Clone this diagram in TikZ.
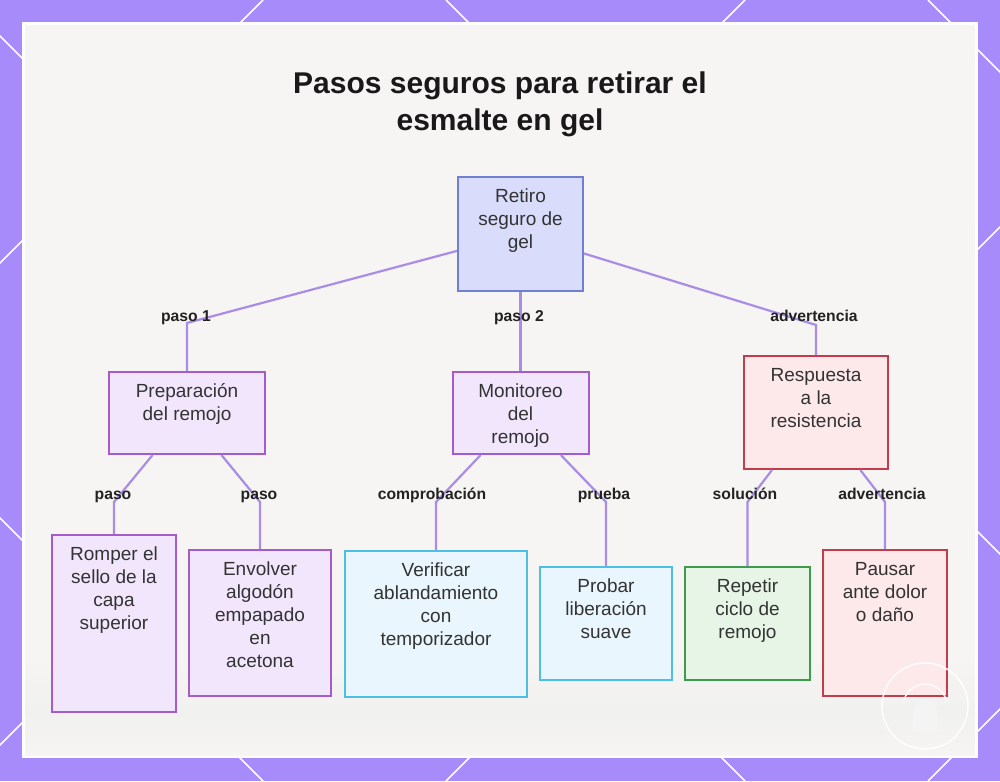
\documentclass[tikz,border=0pt]{standalone}
\usepackage{fontspec}
\setmainfont{Liberation Sans}
\definecolor{bgpurple}{HTML}{A78BFA}
\definecolor{panel}{HTML}{F6F5F3}
\definecolor{edgec}{HTML}{A88CE6}
\definecolor{txt}{HTML}{333333}
\definecolor{lbltxt}{HTML}{222222}
\definecolor{rootfill}{HTML}{D9DCFB}
\definecolor{rootdraw}{HTML}{6F7FD3}
\definecolor{purfill}{HTML}{F2E6FD}
\definecolor{purdraw}{HTML}{A65BCB}
\definecolor{redfill}{HTML}{FDE8EA}
\definecolor{reddraw}{HTML}{C43B4C}
\definecolor{cyanfill}{HTML}{EAF6FD}
\definecolor{cyandraw}{HTML}{4DBFE4}
\definecolor{grnfill}{HTML}{E7F5E7}
\definecolor{grndraw}{HTML}{3E9B4C}
\tikzset{
  basebox/.style={rectangle, draw, line width=2pt, inner sep=0pt},
  rootbox/.style={basebox, fill=rootfill, draw=rootdraw},
  purbox/.style={basebox, fill=purfill, draw=purdraw},
  redbox/.style={basebox, fill=redfill, draw=reddraw},
  cyanbox/.style={basebox, fill=cyanfill, draw=cyandraw},
  grnbox/.style={basebox, fill=grnfill, draw=grndraw},
  ntext/.style={anchor=base, inner sep=0pt, text=txt, font=\fontsize{19}{23.2}\selectfont},
  lbl/.style={anchor=base, inner sep=0pt, text=lbltxt, font=\bfseries\fontsize{15.7}{18}\selectfont},
  edge/.style={draw=edgec, line width=2.2pt},
  lattice/.style={white, line width=1.6pt}
}
\newcommand\tbox[7]{%
  \node[#2, minimum width=#5pt, minimum height=#6pt] (#1) at (#3,#4) {};
  \node[ntext] (#1-t) at (#3, #4-#6/2+25) {\begin{tabular}[t]{@{}c@{}}#7\end{tabular}};}
\begin{document}
\begin{tikzpicture}[x=1pt,y=-1pt]
\useasboundingbox (0,0) rectangle (1000,781);
\fill[bgpurple] (0,0) rectangle (1000,781);
\begin{scope}
  \clip (0,0) rectangle (1000,781);
  \foreach \c in {263,745,1227,1709} {\draw[lattice] (\c,0) -- (\c-781,781);}
  \foreach \d in {-518,-36,446,928} {\draw[lattice] (\d,0) -- (\d+781,781);}
\end{scope}
\fill[white] (22,22) rectangle (978,758);
\fill[panel] (25,25) rectangle (975,755);
\shade[top color=panel, bottom color=black!6, opacity=.7] (25,660) rectangle (975,712);
\shade[top color=black!6, bottom color=panel, opacity=.7] (25,712) rectangle (975,755);

% title
\node[anchor=base, inner sep=0pt, text=black!90, font=\bfseries\fontsize{30}{37}\selectfont] (title) at (500,94)
  {\begin{tabular}[t]{@{}c@{}}Pasos seguros para retirar el\\ esmalte en gel\end{tabular}};

% boxes
\tbox{root}{rootbox}{520.5}{234}{125}{114}{Retiro\\ seguro de\\ gel}
\tbox{prep}{purbox}{187}{413}{156}{82}{Preparación\\ del remojo}
\tbox{moni}{purbox}{520.5}{413}{136}{82}{Monitoreo\\ del\\ remojo}
\tbox{resp}{redbox}{816}{412.5}{144}{113}{Respuesta\\ a la\\ resistencia}
\tbox{romp}{purbox}{114}{623.5}{124}{177}{Romper el\\ sello de la\\ capa\\ superior}
\tbox{envo}{purbox}{260}{623}{142}{146}{Envolver\\ algodón\\ empapado\\ en\\ acetona}
\tbox{veri}{cyanbox}{436}{624}{182}{146}{Verificar\\ ablandamiento\\ con\\ temporizador}
\tbox{prob}{cyanbox}{606}{623.5}{132}{113}{Probar\\ liberación\\ suave}
\tbox{repe}{grnbox}{747.5}{623.5}{125}{113}{Repetir\\ ciclo de\\ remojo}
\tbox{paus}{redbox}{885}{623}{124}{146}{Pausar\\ ante dolor\\ o daño}

% bend points
\coordinate (b1) at (187,323);
\coordinate (b3) at (816,325);
\coordinate (b4) at (114,502);
\coordinate (b5) at (260,502);
\coordinate (b6) at (436,502);
\coordinate (b7) at (606,502);
\coordinate (b8) at (747.5,502);
\coordinate (b9) at (885,502);

% connectors
\draw[edge] (root) -- (b1) -- (prep);
\draw[edge] (root) -- (moni);
\draw[edge] (root) -- (b3) -- (resp);
\draw[edge] (prep) -- (b4) -- (romp);
\draw[edge] (prep) -- (b5) -- (envo);
\draw[edge] (moni) -- (b6) -- (veri);
\draw[edge] (moni) -- (b7) -- (prob);
\draw[edge] (resp) -- (b8) -- (repe);
\draw[edge] (resp) -- (b9) -- (paus);

% labels
\node[lbl] (l1) at (186,321) {paso 1};
\node[lbl] (l2) at (519,321) {paso 2};
\node[lbl] (l3) at (814,321) {advertencia};
\node[lbl] (l4) at (113,499) {paso};
\node[lbl] (l5) at (259,499) {paso};
\node[lbl] (l6) at (432,499) {comprobación};
\node[lbl] (l7) at (604,499) {prueba};
\node[lbl] (l8) at (745,499) {solución};
\node[lbl] (l9) at (882,499) {advertencia};

% watermark
\fill[black!4, opacity=.8] (913,732) -- (913,712) arc[start angle=180, end angle=360, radius=12] -- (937,732) -- cycle;
\draw[white, line width=1.5pt, opacity=.9] (925,706) circle (43);
\draw[white, line width=1.5pt, opacity=.9] (904,700) arc[start angle=196, end angle=344, radius=22];
\end{tikzpicture}
\end{document}
